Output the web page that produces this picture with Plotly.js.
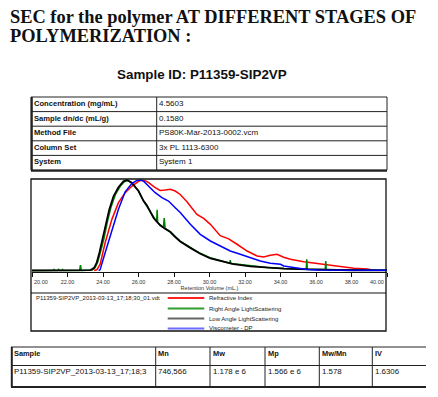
<!DOCTYPE html>
<html><head><meta charset="utf-8">
<script src="https://cdn.plot.ly/plotly-3.0.1.min.js"></script>
<style>html,body{margin:0;padding:0;background:#fff;} #chart{width:438px;height:397px;}</style>
</head><body><div id="chart"></div>
<script>
// ---------- data ----------
const titleLine1 = 'SEC for the polymer AT DIFFERENT STAGES OF';
const titleLine2 = 'POLYMERIZATION :';
const sampleTitle = 'Sample ID: P11359-SIP2VP';

const infoLabels = ['Concentration (mg/mL)', 'Sample dn/dc (mL/g)', 'Method File', 'Column Set', 'System'];
const infoValues = ['4.5603', '0.1580', 'PS80K-Mar-2013-0002.vcm', '3x PL 1113-6300', 'System 1'];

const xTickVals = [20, 22, 24, 26, 28, 30, 32, 34, 36, 38, 40];
const xTickLabels = ['20.00', '22.00', '24.00', '26.00', '28.00', '30.00', '32.00', '34.00', '36.00', '38.00', '40.00'];
const xAxisTitle = 'Retention Volume (mL.)';

const fileName = 'P11359-SIP2VP_2013-03-13_17;18;30_01.vdt';
const seriesNames = ['Refractive Index', 'Right Angle LightScattering', 'Low Angle LightScattering', 'Viscometer - DP'];

// Refractive Index (red)
const riX = [23.5, 23.65, 23.84, 24.12, 24.5, 24.87, 25.25, 25.62, 26.0, 26.19, 26.4, 26.57, 26.94, 27.1, 27.22, 27.5, 27.79, 28.07, 28.35, 28.73, 28.92, 29.29, 29.67, 30.05, 30.6, 31.08, 31.55, 32.12, 32.68, 33.05, 33.43, 33.8, 34.18, 34.56, 35.31, 36.25, 37.2, 38.13, 38.9, 39.1];
const riY = [0, 0.8, 6.9, 30.7, 56.5, 75, 86, 93, 98.5, 100, 99, 97, 91.5, 89.5, 88.5, 89, 89.7, 87.8, 84, 76, 71.3, 62, 57.5, 51, 38.5, 35, 29, 21.5, 16, 15, 16.8, 17.9, 14.6, 12.4, 9.7, 7.2, 4.2, 2.4, 1.7, 0.8];

// Right Angle Light Scattering (green)
const ralsX = [20, 21.2, 21.24, 21.28, 21.45, 21.5, 21.55, 21.68, 21.72, 21.76, 22.68, 22.73, 22.78, 23.4, 23.55, 23.7, 23.88, 24.05, 24.25, 24.45, 24.7, 24.97, 25.2, 25.4, 25.62, 26.0, 26.28, 26.57, 26.85, 27.02, 27.05, 27.08, 27.4, 27.45, 27.5, 27.79, 28.07, 28.35, 28.92, 29.48, 30.05, 30.6, 31.14, 31.17, 31.2, 31.36, 32.3, 33.24, 34.2, 35.45, 35.48, 35.51, 36.52, 36.55, 36.58, 37.5, 38.0, 40];
const ralsY = [0, 0, 1.5, 0, 0, 1.2, 0, 0, 1.5, 0, 0, 6, 0, 0.5, 3, 9, 22, 35, 54, 70, 84, 93, 98, 99.5, 96.5, 88, 77, 67.5, 58.5, 54, 67, 53, 47.5, 58, 46.5, 43, 37.5, 32.5, 25.5, 19, 14, 11, 8, 11.5, 7.8, 7.5, 5, 3.2, 2.2, 1.5, 12.4, 1.5, 1.2, 10.5, 1, 0.6, 0.5, 0.3];

// Low Angle Light Scattering (black)
const lalsX = [20, 23.2, 23.3, 23.5, 23.65, 23.8, 23.95, 24.15, 24.35, 24.59, 24.87, 25.15, 25.35, 25.62, 26.0, 26.28, 26.47, 26.85, 27.09, 27.22, 27.5, 27.79, 28.07, 28.35, 28.92, 29.48, 30.05, 30.6, 31.36, 32.3, 33.24, 34.2, 35.0, 36.0, 37.0, 38.0, 40];
const lalsY = [0, 0, 0.5, 3, 9, 20, 32, 50, 67, 82, 92, 98.5, 100, 97, 87.8, 77, 72, 58, 52, 50, 46, 42.5, 37, 32, 25, 18.5, 13.5, 10.5, 7, 4.5, 3, 2, 1.5, 1, 0.6, 0.3, 0.2];

// Viscometer - DP (blue)
const viscX = [23.75, 23.84, 24.12, 24.5, 24.87, 25.25, 25.62, 25.91, 26.1, 26.3, 26.57, 26.94, 27.32, 27.69, 28.07, 28.35, 28.92, 29.48, 30.05, 30.6, 31.17, 31.73, 32.3, 32.86, 33.43, 34.0, 34.18, 34.94, 35.5, 36.07, 37.0, 38.0, 40];
const viscY = [0, 1, 19.7, 45.5, 67.6, 87, 96, 99.5, 100, 98.5, 93, 86, 80.5, 76.8, 69.4, 64, 51, 40, 32.6, 27, 21.5, 17.9, 14.2, 10.5, 8, 6.9, 5, 2.4, 1.2, 0.5, 0.3, 0.2, 0.2];

const resultHeaders = ['Sample', 'Mn', 'Mw', 'Mp', 'Mw/Mn', 'IV'];
const resultValues = ['P11359-SIP2VP_2013-03-13_17;18;3', '746,566', '1.178 e 6', '1.566 e 6', '1.578', '1.6306'];

// ---------- layout helpers ----------
const W = 438, H = 397;
const px = x => x / W;
const py = y => 1 - y / H;
const SANS = 'Liberation Sans, Arial, sans-serif';
const SERIF = 'Liberation Serif, Times New Roman, serif';
const shapes = [];
const annotations = [];
function hline(x0, x1, y, w, c) {
  shapes.push({type: 'line', xref: 'paper', yref: 'paper', x0: px(x0), x1: px(x1), y0: py(y), y1: py(y), line: {color: c || '#222', width: w || 1}});
}
function vline(x, y0, y1, w, c) {
  shapes.push({type: 'line', xref: 'paper', yref: 'paper', x0: px(x), x1: px(x), y0: py(y0), y1: py(y1), line: {color: c || '#222', width: w || 1}});
}
function label(x, y, t, size, opts) {
  opts = opts || {};
  annotations.push(Object.assign({
    xref: 'paper', yref: 'paper', x: px(x), y: py(y), xanchor: 'left', yanchor: 'middle',
    text: t, showarrow: false, borderpad: 0, borderwidth: 0,
    font: {family: opts.family || SANS, size: size, color: opts.color || '#111'}
  }, opts.extra || {}));
}

// Titles
label(10, 17.3, '<b>' + titleLine1 + '</b>', 18.4, {family: SERIF, color: '#111'});
label(10, 36, '<b>' + titleLine2 + '</b>', 18.4, {family: SERIF, color: '#111'});
label(202, 74.5, '<b>' + sampleTitle + '</b>', 13.4, {extra: {xanchor: 'center'}});

// Info table
const tTop = 97, tRow = 14.6, tL = 31, tR = 387, tDiv = 156.7;
const tBot = tTop + tRow * infoLabels.length;
for (let i = 0; i <= infoLabels.length; i++) hline(tL, tR, tTop + tRow * i, 1);
vline(tL, tTop, tBot, 1); vline(tR, tTop, tBot, 1); vline(tDiv, tTop, tBot, 1);
vline(tL + 0.8, tTop, tBot + 0.8, 2); hline(tL, tR, tBot + 0.8, 2);
infoLabels.forEach((t, i) => {
  const yc = tTop + tRow * (i + 0.5) - 0.8;
  label(34, yc, '<b>' + t + '</b>', 7.6);
  label(159, yc, infoValues[i], 8);
});

// Chart frame
const cL = 31, cR = 386, cT = 179, cB = 331, cDiv = 293;
shapes.push({type: 'rect', xref: 'paper', yref: 'paper', x0: px(cL), x1: px(cR), y0: py(cB), y1: py(cT), line: {color: '#111', width: 1.3}});
hline(cL, cR, cDiv, 1.2, '#111');

// Legend area
label(36, 298.3, fileName, 6, {color: '#222'});
const legColors = ['#ff2020', '#2e9e2e', '#666666', '#6b6bff'];
const legY = [298, 308.5, 318.6, 328.4];
seriesNames.forEach((n, i) => {
  hline(167.7, 204.3, legY[i], 2, legColors[i]);
  label(209, legY[i], n, 6, {color: '#222'});
});
// edge tick labels (shifted inward as in the original)
annotations.push({xref: 'x', yref: 'paper', x: 20, y: py(282), xanchor: 'left', yanchor: 'middle', xshift: 1.5, text: xTickLabels[0], showarrow: false, borderpad: 0, borderwidth: 0, font: {family: SANS, size: 5.5, color: '#333'}});
annotations.push({xref: 'x', yref: 'paper', x: 40, y: py(282), xanchor: 'right', yanchor: 'middle', xshift: -3.5, text: xTickLabels[xTickLabels.length - 1], showarrow: false, borderpad: 0, borderwidth: 0, font: {family: SANS, size: 5.5, color: '#333'}});

// Results table
const rL = 11, rR = 426, rT = 347, rM = 365.5, rB = 387;
const colX = [11, 155.7, 210, 265, 319.3, 372.3];
hline(rL, rR, rT, 1); hline(rL, rR, rM, 1); hline(rL, rR, rB, 2);
vline(rL + 0.8, rT, rB, 2);
colX.slice(1).forEach(x => vline(x, rT, rB, 1));
resultHeaders.forEach((h, i) => {
  label(colX[i] + 2.5, 353.3, '<b>' + h + '</b>', 7.4);
  label(colX[i] + 2.5, 371.7, resultValues[i], 7.9);
});

// ---------- traces ----------
const traces = [
  {x: riX, y: riY, name: seriesNames[0], type: 'scatter', mode: 'lines', line: {color: '#ff0000', width: 1.5}},
  {x: ralsX, y: ralsY, name: seriesNames[1], type: 'scatter', mode: 'lines', line: {color: '#008000', width: 1.5}},
  {x: lalsX, y: lalsY, name: seriesNames[2], type: 'scatter', mode: 'lines', line: {color: '#000000', width: 1.8}},
  {x: viscX, y: viscY, name: seriesNames[3], type: 'scatter', mode: 'lines', line: {color: '#0000ff', width: 1.5}}
];

const layout = {
  width: W, height: H,
  margin: {l: 0, r: 0, t: 0, b: 0},
  paper_bgcolor: '#fff', plot_bgcolor: 'rgba(0,0,0,0)',
  showlegend: false,
  xaxis: {
    domain: [px(32), px(387)], range: [20, 40],
    tickvals: xTickVals, ticktext: xTickLabels.map((t, i) => (i === 0 || i === xTickLabels.length - 1) ? '' : t),
    ticks: 'outside', ticklen: 4, tickcolor: '#111', tickwidth: 1,
    showline: true, linecolor: '#111', linewidth: 1.2,
    showgrid: false, zeroline: false,
    tickfont: {family: SANS, size: 5.5, color: '#333'},
    title: {text: xAxisTitle, font: {family: SANS, size: 5.5, color: '#333'}, standoff: 1},
    automargin: false
  },
  yaxis: {
    domain: [py(272), py(179)], range: [-1.66, 101.1],
    visible: false, showgrid: false, zeroline: false
  },
  shapes: shapes,
  annotations: annotations
};

Plotly.newPlot('chart', traces, layout, {displayModeBar: false, staticPlot: true});
</script></body></html>
